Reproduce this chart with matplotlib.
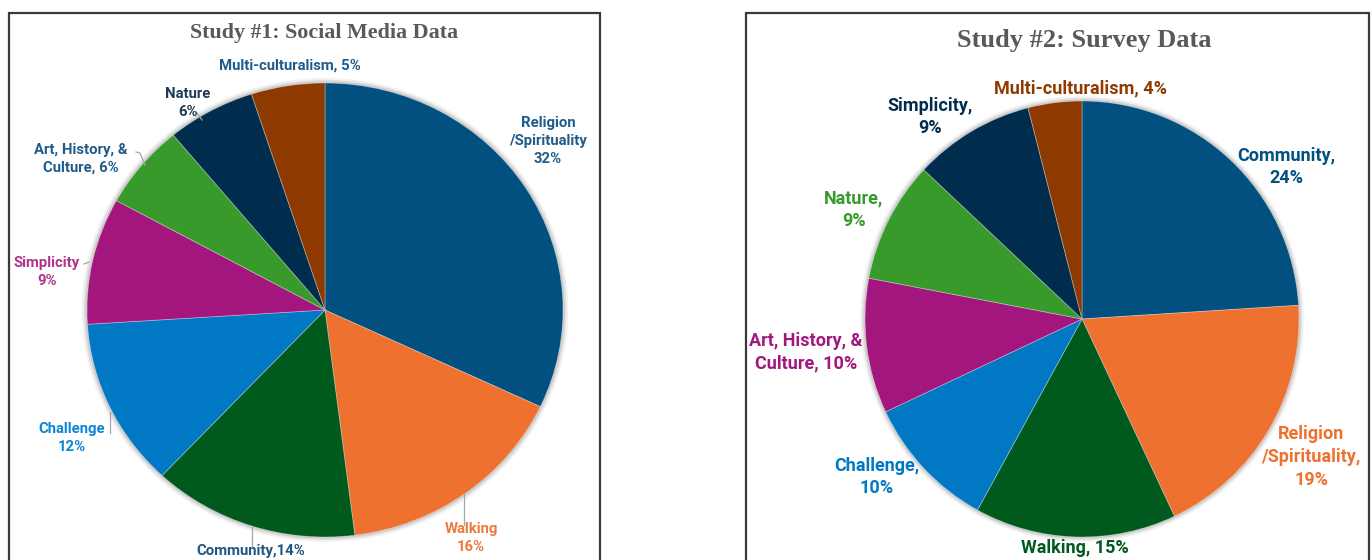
import matplotlib
matplotlib.use("Agg")
import matplotlib.pyplot as plt
from matplotlib.patches import Rectangle, Ellipse
from matplotlib import font_manager as fm

# ---------------- data ----------------
s1_title = "Study #1: Social Media Data"
s1_labels = ["Religion\n/Spirituality\n32%", "Walking\n16%", "Community,14%", "Challenge\n12%",
             "Simplicity\n9%", "Art, History, &\nCulture, 6%", "Nature\n6%", "Multi-culturalism, 5%"]
s1_values = [32, 16, 14, 12, 9, 6, 6, 5]

s2_title = "Study #2: Survey Data"
s2_labels = ["Community,\n24%", "Religion\n/Spirituality,\n19%", "Walking, 15%", "Challenge,\n10%",
             "Art, History, &\nCulture, 10%", "Nature,\n9%", "Simplicity,\n9%", "Multi-culturalism, 4%"]
s2_values = [24, 19, 15, 10, 10, 9, 9, 4]

# ---------------- styles ----------------
DBLUE, ORANGE, DGREEN, BLUE = "#02507F", "#EE712F", "#005A1D", "#0078C4"
MAGENTA, GREEN, NAVY, BROWN = "#A2167E", "#389A2A", "#002D4D", "#8E3900"
s1_colors = [DBLUE, ORANGE, DGREEN, BLUE, MAGENTA, GREEN, NAVY, BROWN]
s2_colors = [DBLUE, ORANGE, DGREEN, BLUE, MAGENTA, GREEN, NAVY, BROWN]
s1_label_colors = ["#1F5C8C", "#EE7A3A", "#1F5580", "#0A86D6", "#B0338C", "#1F5C8C", "#1F3B55", "#1F5C8C"]
s2_label_colors = [DBLUE, ORANGE, DGREEN, BLUE, MAGENTA, GREEN, NAVY, BROWN]

W, H = 1371, 560
avail = {f.name for f in fm.fontManager.ttflist}
label_font = [f for f in ["Liberation Sans Narrow", "Roboto", "DejaVu Sans"] if f in avail]
title_font = [f for f in ["Liberation Serif", "DejaVu Serif"] if f in avail]

fig = plt.figure(figsize=(W / 100, H / 100), dpi=100)

def px(x, y):
    return x / W, 1 - y / H

# panel borders
for x0, x1 in [(9, 600), (746, 1369)]:
    fig.add_artist(Rectangle((x0 / W, -0.1), (x1 - x0) / W, 1.1 - 13 / H,
                             transform=fig.transFigure, fill=False,
                             edgecolor="#3a3a3a", linewidth=1.6))

def draw_pie(values, colors, cx, cy, rx, ry):
    ax = fig.add_axes([(cx - rx) / W, 1 - (cy + ry) / H, 2 * rx / W, 2 * ry / H])
    # soft shadow around the pie
    for k, a in [(1.022, 0.05), (1.014, 0.07), (1.007, 0.10)]:
        ax.add_patch(Ellipse((0, 0), 2 * k, 2 * k, facecolor="#000000", alpha=a,
                             edgecolor="none", zorder=0, clip_on=False))
    ax.pie(values, colors=colors, startangle=90, counterclock=False, radius=1,
           wedgeprops=dict(linewidth=0.6, edgecolor=(1, 1, 1, 0.35), zorder=2))
    ax.set_xlim(-1, 1)
    ax.set_ylim(-1, 1)
    ax.set_aspect("auto")
    ax.axis("off")
    return ax

draw_pie(s1_values, s1_colors, 325, 310, 238, 227)
draw_pie(s2_values, s2_colors, 1082, 319, 217, 218)

# titles
fig.text(*px(324, 33), s1_title, ha="center", va="center", fontsize=15.8,
         fontweight="bold", color="#595959", family=title_font)
fig.text(*px(1084, 40), s2_title, ha="center", va="center", fontsize=19,
         fontweight="bold", color="#595959", family=title_font)

# label layout (pixel centres)
s1_pos = [(548, 141), (471, 538), (251, 551), (72, 438), (47, 272), (81, 159), (188, 103), (290, 66)]
s2_pos = [(1286, 167), (1311, 457), (1075, 548), (877, 477), (806, 352), (854, 210), (930, 117), (1081, 88)]

for lab, col, (x, y) in zip(s1_labels, s1_label_colors, s1_pos):
    fig.text(*px(x, y), lab, ha="center", va="center", fontsize=10.7, fontweight="bold",
             color=col, family=label_font, linespacing=1.35)
for lab, col, (x, y) in zip(s2_labels, s2_label_colors, s2_pos):
    fig.text(*px(x, y), lab, ha="center", va="center", fontsize=13, fontweight="bold",
             color=col, family=label_font, linespacing=1.35)

# leader lines (left panel)
leaders = [[(252, 527), (252, 546)], [(464, 493), (464, 525)], [(110, 412), (110, 433)],
           [(84, 264), (89, 262)], [(136, 152), (140, 153), (145, 165)], [(197, 113), (202, 120)]]
for pts in leaders:
    xs = [p[0] / W for p in pts]
    ys = [1 - p[1] / H for p in pts]
    fig.add_artist(plt.Line2D(xs, ys, transform=fig.transFigure, color="#a6a6a6", linewidth=0.9))

fig.savefig("out.png", dpi=100, facecolor="white")
